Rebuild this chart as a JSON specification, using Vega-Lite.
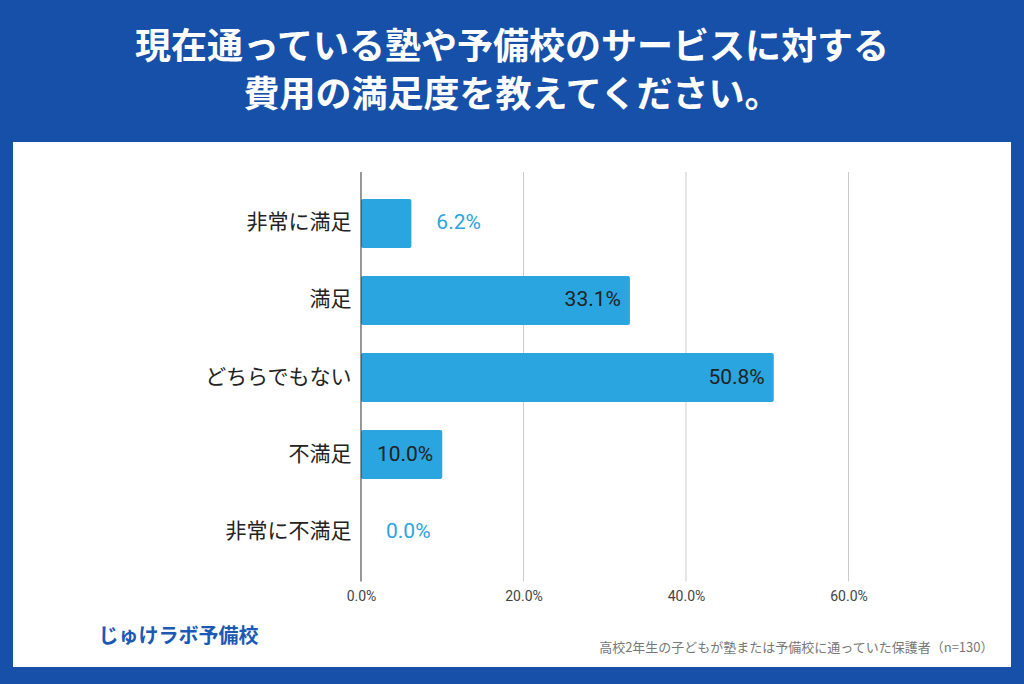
{
  "$schema": "https://vega.github.io/schema/vega-lite/v6.json",
  "width": 998,
  "height": 525,
  "autosize": {"type": "none"},
  "padding": {"left": 13, "top": 142, "right": 13, "bottom": 17},
  "background": "#1650a9",
  "title": {
    "text": ["現在通っている塾や予備校のサービスに対する", "費用の満足度を教えてください。"],
    "color": "white",
    "fontSize": 36,
    "fontWeight": "bold",
    "font": "Noto Sans CJK JP",
    "lineHeight": 48,
    "offset": 27,
    "anchor": "middle"
  },
  "config": {"view": {"fill": "white", "stroke": null}},
  "data": {
    "values": [
      {"cat": "非常に満足", "v": 0.062},
      {"cat": "満足", "v": 0.331},
      {"cat": "どちらでもない", "v": 0.508},
      {"cat": "不満足", "v": 0.1},
      {"cat": "非常に不満足", "v": 0.0}
    ]
  },
  "layer": [
    {
      "data": {"values": [{"g": 0.2}, {"g": 0.4}, {"g": 0.6}]},
      "mark": {"type": "rule", "color": "#cccccc", "strokeWidth": 1, "yOffset": -51.5, "y2Offset": 50},
      "encoding": {
        "x": {"field": "g", "type": "quantitative"},
        "y": {"datum": "非常に満足"},
        "y2": {"datum": "非常に不満足"}
      }
    },
    {
      "mark": {"type": "bar", "color": "#2aa5df", "cornerRadius": 2},
      "encoding": {
        "y": {
          "field": "cat",
          "type": "nominal",
          "sort": null,
          "scale": {
            "domain": ["非常に満足", "満足", "どちらでもない", "不満足", "非常に不満足"],
            "range": [57, 414],
            "paddingInner": 0.364,
            "paddingOuter": 0
          },
          "axis": {
            "title": "じゅけラボ予備校",
            "offset": -348,
            "domain": false,
            "ticks": false,
            "labelFontSize": 21,
            "labelColor": "#222222",
            "labelPadding": 10,
            "labelFont": "Noto Sans CJK JP",
            "titleAngle": 0,
            "titleX": -263,
            "titleY": 494,
            "titleAlign": "left",
            "titleBaseline": "middle",
            "titleFontSize": 20,
            "titleColor": "#1a5ab4",
            "titleFontWeight": "bold",
            "titleFont": "Noto Sans CJK JP"
          }
        },
        "x": {
          "field": "v",
          "type": "quantitative",
          "scale": {"domain": [-0.4283, 0.8], "nice": false, "zero": false},
          "axis": {
            "values": [0, 0.2, 0.4, 0.6],
            "format": ".1%",
            "grid": false,
            "domain": false,
            "ticks": false,
            "offset": -87,
            "labelFontSize": 14,
            "labelColor": "#444444",
            "labelPadding": 9,
            "labelFont": "Roboto",
            "title": "高校2年生の子どもが塾または予備校に通っていた保護者（n=130）",
            "titleFontSize": 13,
            "titleFontWeight": "normal",
            "titleColor": "#777777",
            "titleFont": "Noto Sans CJK JP",
            "titleX": 980,
            "titleY": 67,
            "titleAlign": "right",
            "titleBaseline": "middle"
          }
        },
        "x2": {"datum": 0}
      }
    },
    {
      "data": {"values": [{"g": 0}]},
      "mark": {"type": "rule", "color": "#333333", "strokeWidth": 1, "yOffset": -51.5, "y2Offset": 50},
      "encoding": {
        "x": {"field": "g", "type": "quantitative"},
        "y": {"datum": "非常に満足"},
        "y2": {"datum": "非常に不満足"}
      }
    },
    {
      "transform": [{"filter": "datum.v >= 0.1"}],
      "mark": {"type": "text", "align": "right", "baseline": "middle", "dx": -9, "fontSize": 21, "font": "Roboto", "color": "#212121"},
      "encoding": {
        "y": {"field": "cat", "type": "nominal", "sort": null},
        "x": {"field": "v", "type": "quantitative"},
        "text": {"field": "v", "type": "quantitative", "format": ".1%"}
      }
    },
    {
      "transform": [{"filter": "datum.v < 0.1"}],
      "mark": {"type": "text", "align": "left", "baseline": "middle", "dx": 25, "fontSize": 21, "font": "Roboto", "color": "#2aa5df"},
      "encoding": {
        "y": {"field": "cat", "type": "nominal", "sort": null},
        "x": {"field": "v", "type": "quantitative"},
        "text": {"field": "v", "type": "quantitative", "format": ".1%"}
      }
    }
  ]
}
